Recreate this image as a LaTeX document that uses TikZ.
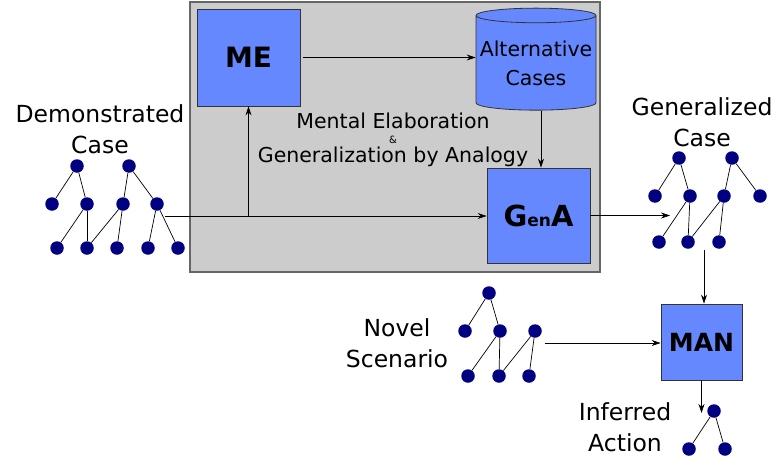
\documentclass[tikz,border=0pt]{standalone}
\usepackage{fontspec}
\setmainfont{DejaVu Sans}
\usepackage{xcolor}
\usetikzlibrary{positioning,shapes.geometric,arrows.meta}
\definecolor{myblue}{RGB}{102,136,255}
\definecolor{mynavy}{RGB}{0,0,128}
\definecolor{mygray}{RGB}{204,204,204}

\begin{document}
\begin{tikzpicture}[x=1pt,y=-1pt,
          procnode/.style={rectangle,draw=black!80,fill=myblue,line width=0.8pt,inner sep=0pt},
          dot/.style={circle,fill=mynavy,inner sep=0pt,minimum size=13.5pt},
          lbl/.style={align=center,font=\fontsize{23.5}{31}\selectfont},
          link/.style={line width=0.7pt},
          flow/.style={-{Stealth[length=9pt,width=6pt]},line width=0.7pt}
          ]
          \useasboundingbox (0,0) rectangle (775,460);

          % the grey frame
          \node [draw=black!60,fill=mygray,line width=1.2pt,inner sep=0pt,
                 minimum width=410pt,minimum height=270pt] (frame) at (395,137) {};

          % the processes
          \node [procnode,minimum width=103pt,minimum height=97pt] (ME) at (248.5,57.5)
                {\fontsize{28}{28}\selectfont\bfseries ME};
          \node [procnode,minimum width=103pt,minimum height=95pt] (GenA) at (538.5,215.5)
                {\bfseries\fontsize{29}{29}\selectfont G\fontsize{17}{17}\selectfont en\fontsize{29}{29}\selectfont A};
          \node [procnode,minimum width=81pt,minimum height=76pt] (MAN) at (701.5,342)
                {\fontsize{25}{25}\selectfont\bfseries MAN};
          \node [cylinder,shape border rotate=90,aspect=0.13,draw=black!80,fill=myblue,line width=0.8pt,
                 minimum width=120pt,minimum height=102pt,inner sep=0pt,align=center,
                 font=\fontsize{20.5}{29}\selectfont] (alt) at (536,63) {Alternative\\Cases};

          % the labels
          \node [lbl] (demo) at (100,129) {Demonstrated\\Case};
          \node [lbl] (gen) at (702,122.5) {Generalized\\Case};
          \node [lbl] (novel) at (397,343) {Novel\\Scenario};
          \node [lbl] (infer) at (625,427) {Inferred\\Action};
          \node [anchor=base,font=\fontsize{20.5}{24}\selectfont] (mental) at (393,128) {Mental Elaboration};
          \node [anchor=base,font=\fontsize{10}{10}\selectfont] (amp) at (393,143) {\&};
          \node [anchor=base,font=\fontsize{20.5}{24}\selectfont] (analogy) at (393,162) {Generalization by Analogy};

          % the demonstrated case
          \foreach \n/\x/\y in {dm1/77/166,dm2/129/166,dm3/52/204,dm4/87/204,dm5/123/204,dm6/157/204,
                                dm7/57/248,dm8/87/248,dm9/117/248,dm10/148/248,dm11/178/248}
            \node [dot] (\n) at (\x,\y) {};
          \foreach \a/\b in {dm1/dm3,dm1/dm4,dm2/dm5,dm2/dm6,dm4/dm7,dm4/dm8,dm5/dm8,dm5/dm9,dm6/dm10,dm6/dm11}
            \draw [link] (\a) -- (\b);

          % the generalized case
          \foreach \n/\x/\y in {gc1/679/158,gc2/732/158,gc3/655/196,gc4/690/196,gc5/724/196,gc6/760/196,
                                gc7/659/242,gc8/688/242,gc9/719/242}
            \node [dot] (\n) at (\x,\y) {};
          \foreach \a/\b in {gc1/gc3,gc1/gc4,gc2/gc5,gc2/gc6,gc4/gc7,gc4/gc8,gc5/gc8,gc5/gc9}
            \draw [link] (\a) -- (\b);

          % the novel scenario
          \foreach \n/\x/\y in {ns1/489/293,ns2/465/331,ns3/500/331,ns4/535/331,ns5/468/376,ns6/499/376,ns7/529/376}
            \node [dot] (\n) at (\x,\y) {};
          \foreach \a/\b in {ns1/ns2,ns1/ns3,ns3/ns5,ns3/ns6,ns4/ns6,ns4/ns7}
            \draw [link] (\a) -- (\b);

          % the inferred action
          \foreach \n/\x/\y in {ia1/714/411,ia2/689/449,ia3/725/449}
            \node [dot] (\n) at (\x,\y) {};
          \foreach \a/\b in {ia1/ia2,ia1/ia3}
            \draw [link] (\a) -- (\b);

          % the arrows
          \coordinate (dmout) at (165,216);
          \coordinate (split) at (ME.south |- dmout);
          \coordinate (gcin) at (670,215.5);
          \coordinate (gcout) at (704,250);
          \coordinate (nsout) at (545,343);
          \coordinate (iain) at (701.5,413);
          \draw [flow] (dmout) -- (dmout -| GenA.west);
          \draw [flow] (split) -- (ME.south);
          \draw [flow,shorten <=3pt] (ME.east) -- (ME.east -| alt.west);
          \draw [flow] ([xshift=5pt]alt.south) -- ([xshift=5pt]alt.south |- GenA.north);
          \draw [flow] (GenA.east) -- (gcin);
          \draw [flow] (gcout) -- (gcout |- MAN.north);
          \draw [flow] (nsout) -- (nsout -| MAN.west);
          \draw [flow] (MAN.south) -- (iain);
        \end{tikzpicture}
\end{document}
